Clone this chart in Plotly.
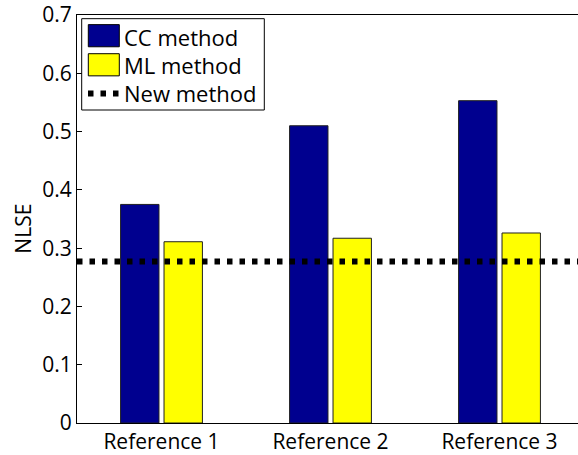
import plotly.graph_objects as go

# ---- data ----
categories = ["Reference 1", "Reference 2", "Reference 3"]
cc_values = [0.375, 0.510, 0.553]
ml_values = [0.311, 0.317, 0.326]
new_value = 0.2773
series_names = ["CC method", "ML method", "New method"]
ytick_vals = [0, 0.1, 0.2, 0.3, 0.4, 0.5, 0.6, 0.7]
ytick_text = ["0", "0.1", "0.2", "0.3", "0.4", "0.5", "0.6", "0.7"]

W, H = 578, 455
L, R, T, B = 77, 0, 12, 32
FONT = "Open Sans"
x_pos = [1, 2, 3]
x_range = [0.5, 3.4645]
y_range = [0, 0.70002]


def px(xp):
    return (xp - L) / (W - L - R)


def py(yp):
    return (H - B - yp) / (H - T - B)


fig = go.Figure()
fig.add_trace(go.Bar(x=x_pos, y=cc_values, name=series_names[0],
                     marker=dict(color="#00008F", line=dict(color="#202020", width=1)),
                     showlegend=False))
fig.add_trace(go.Bar(x=x_pos, y=ml_values, name=series_names[1],
                     marker=dict(color="#FFFF00", line=dict(color="#202020", width=1)),
                     showlegend=False))
fig.add_trace(go.Scatter(x=x_range, y=[new_value, new_value], mode="lines",
                         name=series_names[2],
                         line=dict(color="black", width=6, dash="5.5px,7px"),
                         showlegend=False))

shapes = [
    dict(type="rect", xref="paper", yref="paper", x0=px(81.7), x1=px(264.3),
         y0=py(107.7), y1=py(15.7), line=dict(color="black", width=1), fillcolor="white"),
    dict(type="rect", xref="paper", yref="paper", x0=px(88.3), x1=px(119.3),
         y0=py(44), y1=py(21.7), line=dict(color="black", width=1), fillcolor="#00008F"),
    dict(type="rect", xref="paper", yref="paper", x0=px(88.3), x1=px(119.3),
         y0=py(73.3), y1=py(51), line=dict(color="black", width=1), fillcolor="#FFFF00"),
    dict(type="line", xref="paper", yref="paper", x0=px(88), x1=px(119.5),
         y0=py(91), y1=py(91), line=dict(color="black", width=6, dash="5.5px,7px")),
]

legend_font = dict(family=FONT, size=22, color="black")
annotations = [
    dict(text=series_names[0], xref="paper", yref="paper", x=px(121.5), y=py(34),
         xanchor="left", yanchor="middle", showarrow=False, font=legend_font),
    dict(text=series_names[1], xref="paper", yref="paper", x=px(121.5), y=py(62),
         xanchor="left", yanchor="middle", showarrow=False, font=legend_font),
    dict(text=series_names[2], xref="paper", yref="paper", x=px(121.5), y=py(91),
         xanchor="left", yanchor="middle", showarrow=False, font=legend_font),
    dict(text="NLSE", xref="paper", yref="paper", x=px(23.5), y=py(227.7),
         xanchor="center", yanchor="middle", textangle=-90, showarrow=False,
         font=dict(family=FONT, size=21, color="black")),
]

fig.update_layout(
    width=W, height=H,
    margin=dict(l=L, r=R, t=T, b=B, pad=0),
    paper_bgcolor="white", plot_bgcolor="white",
    barmode="group", bargap=0.486, bargroupgap=0.116,
    font=dict(family=FONT, size=21, color="black"),
    shapes=shapes, annotations=annotations,
    showlegend=False,
)
fig.update_xaxes(range=x_range, tickvals=x_pos, ticktext=categories,
                 showline=True, linecolor="black", linewidth=1, mirror=True,
                 ticks="", showgrid=False, zeroline=False,
                 tickfont=dict(family=FONT, size=21, color="black"))
fig.update_yaxes(range=y_range, tickvals=ytick_vals, ticktext=ytick_text,
                 showline=True, linecolor="black", linewidth=1, mirror=False,
                 ticks="inside", ticklen=5, tickcolor="black", tickwidth=1,
                 showgrid=False, zeroline=False, ticklabeloverflow="allow",
                 tickfont=dict(family=FONT, size=21, color="black"))

fig.write_html("out.html", config={"displayModeBar": False},
               post_script="document.body.style.margin='0';document.body.style.overflow='hidden';")
